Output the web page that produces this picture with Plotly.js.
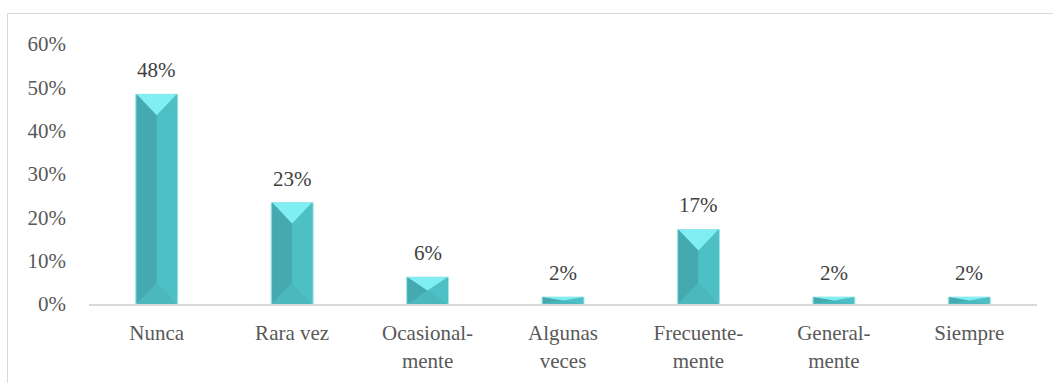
<!DOCTYPE html>
<html>
<head>
<meta charset="utf-8">
<script src="https://cdn.plot.ly/plotly-3.0.1.min.js"></script>
<style>
html,body{margin:0;padding:0;background:#fff;}
#wrap{position:relative;width:1053px;height:383px;overflow:hidden;}
#frame{position:absolute;left:7px;top:13px;width:1100px;height:450px;border:1px solid #d9d9d9;box-sizing:border-box;}
#chart{position:absolute;left:0;top:0;width:1053px;height:383px;}
</style>
</head>
<body>
<div id="wrap"><div id="frame"></div><div id="chart"></div></div>
<script>
// Data
const categories = ["Nunca", "Rara vez", "Ocasional-<br>mente", "Algunas<br>veces", "Frecuente-<br>mente", "General-<br>mente", "Siempre"];
const values = [48.4, 23.4, 6.2, 1.6, 17.2, 1.6, 1.6];
const yTicks = [0, 10, 20, 30, 40, 50, 60];

// Layout constants
const FONT = 'Liberation Serif';
const FS = 21;
const W = 1053, H = 383;
const M = {l: 89, r: 16, t: 44, b: 78.5};
const yMax = 60;
const barW = 0.31; // fraction of category slot
const plotW = W - M.l - M.r, plotH = H - M.t - M.b;
const xIdx = categories.map((_, i) => i);
const pxPerX = plotW / categories.length;
const pxPerY = plotH / yMax;

const traces = [];
traces.push({
  type: 'bar', x: xIdx, y: values, width: barW,
  marker: {color: '#4bbdc3', line: {color: '#a6e3e6', width: 1}},
  hoverinfo: 'skip', showlegend: false
});

// Bevel faces computed from the data values
const faceColors = {left: '#46a9af', right: '#4dc0c6', top: '#80eff4', bottom: '#4bb8be'};
const faces = {left: {x: [], y: []}, right: {x: [], y: []}, top: {x: [], y: []}, bottom: {x: [], y: []}};
values.forEach((v, i) => {
  const hw = barW / 2;
  const halfPx = hw * pxPerX;
  const dPx = Math.min(halfPx, v * pxPerY / 2);
  const d = dPx / pxPerY;
  const c = i, a = c - hw + 0.008, b = c + hw - 0.008;
  const push = (f, xs, ys) => { faces[f].x.push(...xs, null); faces[f].y.push(...ys, null); };
  push('left', [a, a, c, c, a], [0, v, v - d, d, 0]);
  push('right', [b, b, c, c, b], [0, v, v - d, d, 0]);
  push('top', [a, b, c, a], [v, v, v - d, v]);
  push('bottom', [a, b, c, a], [0, 0, d, 0]);
});
['left', 'right', 'bottom', 'top'].forEach(f => {
  traces.push({
    type: 'scatter', mode: 'lines', x: faces[f].x, y: faces[f].y,
    fill: 'toself', fillcolor: faceColors[f], line: {width: 0, color: faceColors[f]},
    hoverinfo: 'skip', showlegend: false
  });
});

const annotations = values.map((v, i) => ({
  x: i, y: v, xref: 'x', yref: 'y', text: Math.round(v) + '%',
  showarrow: false, yanchor: 'bottom', yshift: 10,
  font: {family: FONT, size: FS, color: '#404040'}
}));

const layout = {
  width: W, height: H,
  margin: M,
  paper_bgcolor: 'rgba(0,0,0,0)', plot_bgcolor: 'rgba(0,0,0,0)',
  showlegend: false,
  font: {family: FONT, size: FS, color: '#595959'},
  xaxis: {
    range: [-0.5, categories.length - 0.5],
    tickmode: 'array', tickvals: xIdx, ticktext: categories,
    showgrid: false, zeroline: false,
    showline: true, linecolor: '#d9d9d9', linewidth: 2,
    ticks: '', ticklabelstandoff: 9,
    tickfont: {family: FONT, size: FS, color: '#595959'}
  },
  yaxis: {
    range: [0, yMax], tickmode: 'array', tickvals: yTicks,
    ticktext: yTicks.map(t => t + '%'),
    showgrid: false, zeroline: false, showline: false,
    ticks: '', ticklabelstandoff: 22,
    tickfont: {family: FONT, size: FS, color: '#595959'}
  },
  annotations: annotations
};

Plotly.newPlot('chart', traces, layout, {staticPlot: true, displayModeBar: false});
</script>
</body>
</html>
